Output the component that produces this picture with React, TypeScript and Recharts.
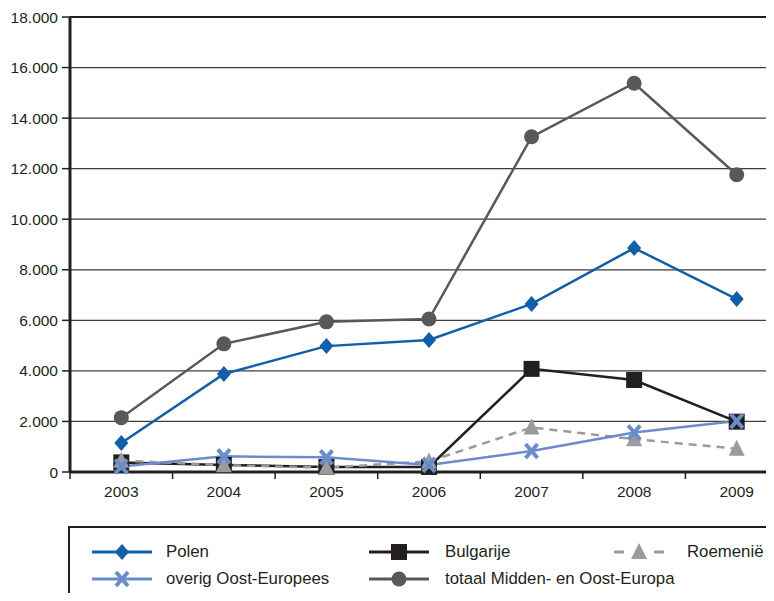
import React from 'react';
import { LineChart, Line, XAxis, YAxis, CartesianGrid, ReferenceLine } from 'recharts';

const years = ['2003', '2004', '2005', '2006', '2007', '2008', '2009'];
const polen = [1150, 3880, 4980, 5220, 6650, 8860, 6840];
const bulgarije = [380, 280, 200, 200, 4080, 3640, 1990];
const roemenie = [450, 270, 170, 420, 1760, 1300, 920];
const overig = [220, 620, 580, 280, 830, 1560, 2020];
const totaal = [2150, 5070, 5940, 6050, 13260, 15380, 11760];
const yTicks = [0, 2000, 4000, 6000, 8000, 10000, 12000, 14000, 16000, 18000];

const data = years.map((y, i) => ({
  year: y,
  polen: polen[i],
  bulgarije: bulgarije[i],
  roemenie: roemenie[i],
  overig: overig[i],
  totaal: totaal[i],
}));

const FONT = '"Liberation Sans", Arial, Helvetica, sans-serif';
const TEXT = '#231f20';

const C_POLEN = '#0f5fa9';
const C_BULG = '#231f20';
const C_ROEM = '#9b9b9d';
const C_OVER = '#6b8ccc';
const C_TOT = '#59595b';

type Shape = 'diamond' | 'square' | 'triangle' | 'cross' | 'circle';

function Marker({ shape, cx, cy, color }: { shape: Shape; cx: number; cy: number; color: string }) {
  if (shape === 'diamond') {
    return <polygon points={`${cx},${cy - 8} ${cx + 7},${cy} ${cx},${cy + 8} ${cx - 7},${cy}`} fill={color} />;
  }
  if (shape === 'square') {
    return <rect x={cx - 8} y={cy - 8} width={16} height={16} fill={color} />;
  }
  if (shape === 'triangle') {
    return <polygon points={`${cx},${cy - 9} ${cx + 8},${cy + 7} ${cx - 8},${cy + 7}`} fill={color} />;
  }
  if (shape === 'cross') {
    return (
      <g stroke={color} strokeWidth={4} strokeLinecap="butt">
        <line x1={cx - 6} y1={cy - 7} x2={cx + 6} y2={cy + 7} />
        <line x1={cx + 6} y1={cy - 7} x2={cx - 6} y2={cy + 7} />
      </g>
    );
  }
  return <circle cx={cx} cy={cy} r={7.5} fill={color} />;
}

const makeDot = (shape: Shape, color: string) => (props: any) => {
  const { cx, cy, index } = props;
  if (cx == null || cy == null) return <g key={`d-${shape}-${index}`} />;
  return (
    <g key={`d-${shape}-${index}`}>
      <Marker shape={shape} cx={cx} cy={cy} color={color} />
    </g>
  );
};

const series = [
  { key: 'totaal', name: 'totaal Midden- en Oost-Europa', color: C_TOT, shape: 'circle' as Shape, dash: undefined as string | undefined },
  { key: 'polen', name: 'Polen', color: C_POLEN, shape: 'diamond' as Shape, dash: undefined },
  { key: 'bulgarije', name: 'Bulgarije', color: C_BULG, shape: 'square' as Shape, dash: undefined },
  { key: 'roemenie', name: 'Roemenië', color: C_ROEM, shape: 'triangle' as Shape, dash: '8 6' },
  { key: 'overig', name: 'overig Oost-Europees', color: C_OVER, shape: 'cross' as Shape, dash: undefined },
];

const legendOrder = [
  { key: 'polen', col: 0, row: 0 },
  { key: 'bulgarije', col: 1, row: 0 },
  { key: 'roemenie', col: 2, row: 0 },
  { key: 'overig', col: 0, row: 1 },
  { key: 'totaal', col: 1, row: 1 },
];

const CHART_W = 800;
const CHART_H = 520;
const PLOT_LEFT = 70;
const PLOT_RIGHT_MARGIN = 12;
const HALF_BAND = (CHART_W - PLOT_LEFT - PLOT_RIGHT_MARGIN) / years.length / 2;

const XTick = (props: any) => {
  const { x, y, payload } = props;
  return (
    <g>
      <line x1={x - HALF_BAND} y1={y} x2={x - HALF_BAND} y2={y + 7} stroke={TEXT} strokeWidth={1.5} />
      <text x={x} y={y + 25} textAnchor="middle" fill={TEXT} fontSize={15.5} fontFamily={FONT}>
        {payload.value}
      </text>
    </g>
  );
};

const fmt = (v: number) => (v === 0 ? '0' : String(v).replace(/\B(?=(\d{3})+(?!\d))/g, '.'));

function LegendIcon({ s }: { s: (typeof series)[number] }) {
  const dashed = !!s.dash;
  const w = dashed ? 50 : 60;
  return (
    <svg width={w} height={20} style={{ display: 'block' }}>
      {dashed ? (
        <g stroke={s.color} strokeWidth={3}>
          <line x1={0} y1={10} x2={10} y2={10} />
          <line x1={40} y1={10} x2={50} y2={10} />
        </g>
      ) : (
        <line x1={0} y1={10} x2={w} y2={10} stroke={s.color} strokeWidth={3} />
      )}
      <Marker shape={s.shape} cx={w / 2} cy={10} color={s.color} />
    </svg>
  );
}

export default function App() {
  return (
    <div style={{ position: 'relative', margin: -8, width: 774, height: 601, overflow: 'hidden', background: '#fff' }}>
      <LineChart
        width={CHART_W}
        height={CHART_H}
        data={data}
        margin={{ top: 17, right: PLOT_RIGHT_MARGIN, left: 10, bottom: 0 }}
      >
        <CartesianGrid vertical={false} stroke="#3c3c3c" strokeWidth={1.2} />
        <ReferenceLine y={18000} stroke={TEXT} strokeWidth={2.2} />
        <XAxis
          dataKey="year"
          scale="band"
          height={48}
          axisLine={{ stroke: TEXT, strokeWidth: 3 }}
          tickLine={false}
          tickSize={0}
          tickMargin={0}
          tick={<XTick />}
          interval={0}
        />
        <YAxis
          width={60}
          domain={[0, 18000]}
          ticks={yTicks}
          tickFormatter={fmt}
          axisLine={{ stroke: TEXT, strokeWidth: 3 }}
          tickLine={{ stroke: TEXT, strokeWidth: 1.5 }}
          tickSize={8}
          tickMargin={4}
          tick={{ fill: TEXT, fontSize: 15.5, fontFamily: FONT }}
          interval={0}
        />
        {series.map((s) => (
          <Line
            key={s.key}
            dataKey={s.key}
            name={s.name}
            stroke={s.color}
            strokeWidth={2.5}
            strokeDasharray={s.dash}
            dot={makeDot(s.shape, s.color)}
            activeDot={false}
            isAnimationActive={false}
            type="linear"
          />
        ))}
      </LineChart>
      <div
        style={{
          position: 'absolute',
          left: 68,
          top: 526,
          width: 800,
          height: 120,
          borderTop: `2.5px solid ${TEXT}`,
          borderLeft: `2.5px solid ${TEXT}`,
          fontFamily: FONT,
          fontSize: 16.8,
          color: TEXT,
        }}
      >
        {legendOrder.map((l) => {
          const s = series.find((x) => x.key === l.key)!;
          const colIcon = [22, 299, 544][l.col];
          const colText = [96, 375, 617][l.col];
          const top = 14 + l.row * 27;
          return (
            <React.Fragment key={l.key}>
              <div style={{ position: 'absolute', left: colIcon, top }}>
                <LegendIcon s={s} />
              </div>
              <div style={{ position: 'absolute', left: colText, top: top, lineHeight: '20px', whiteSpace: 'nowrap' }}>
                {s.name}
              </div>
            </React.Fragment>
          );
        })}
      </div>
    </div>
  );
}
